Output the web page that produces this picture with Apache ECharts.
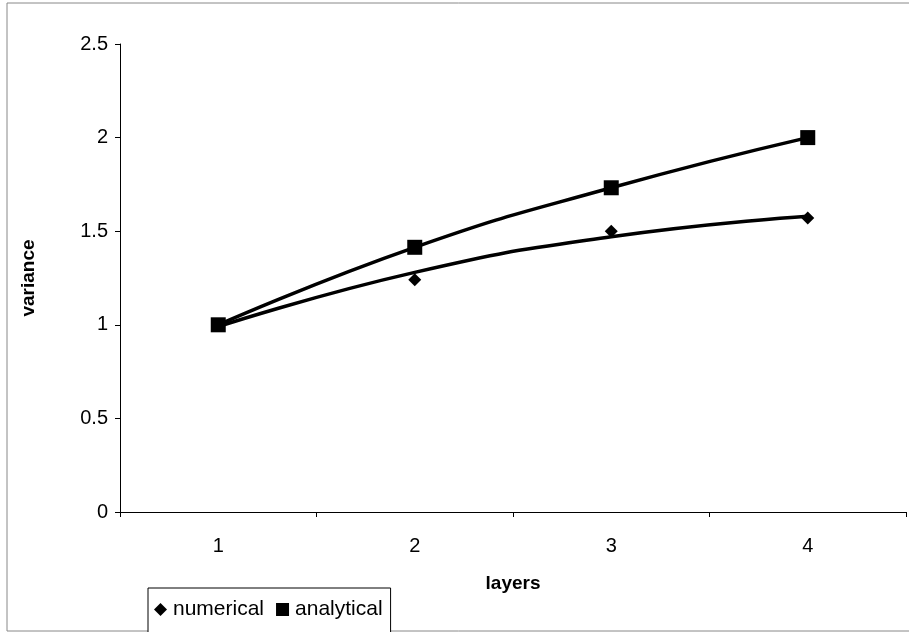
<!DOCTYPE html>
<html>
<head>
<meta charset="utf-8">
<script src="https://cdn.jsdelivr.net/npm/echarts@6/dist/echarts.min.js"></script>
<style>
html,body{margin:0;padding:0;background:#fff;}
#c{width:909px;height:632px;}
</style>
</head>
<body>
<div id="c"></div>
<script>
var categories = ['1', '2', '3', '4'];
var numerical = [1.0, 1.24, 1.5, 1.57];
var analytical = [1.0, 1.414, 1.732, 2.0];
var numericalTrend = [0.99, 1.28, 1.47, 1.58];
var yTicks = [0, 0.5, 1, 1.5, 2, 2.5];

var chart = echarts.init(document.getElementById('c'));
var font = 'Liberation Sans, Arial, sans-serif';
chart.setOption({
  animation: false,
  backgroundColor: '#fff',
  grid: {left: 120, right: 3, top: 44, bottom: 120},
  graphic: [{
    type: 'rect', shape: {x: 7, y: 3, width: 905, height: 628},
    style: {fill: 'none', stroke: '#888', lineWidth: 1}, z: -1
  }],
  legend: {
    left: 148, top: 588,
    data: [{name: 'numerical', icon: 'diamond'}, {name: 'analytical', icon: 'rect'}],
    itemWidth: 13, itemHeight: 13, itemGap: 12,
    borderColor: '#000', borderWidth: 1, backgroundColor: '#fff',
    padding: [11, 8, 14, 6],
    textStyle: {fontFamily: font, fontSize: 21, color: '#000', padding: [0, 0, 0, 1]}
  },
  xAxis: {
    type: 'category', data: categories, boundaryGap: true,
    name: 'layers', nameLocation: 'middle', nameGap: 62,
    nameTextStyle: {fontFamily: font, fontSize: 19, fontWeight: 'bold', color: '#000'},
    axisLine: {lineStyle: {color: '#000', width: 1}},
    axisTick: {show: true, length: 5, lineStyle: {color: '#000'}},
    axisLabel: {fontFamily: font, fontSize: 20, color: '#000', margin: 24},
    splitLine: {show: false}
  },
  yAxis: {
    type: 'value', min: yTicks[0], max: yTicks[yTicks.length - 1], interval: 0.5,
    name: 'variance', nameLocation: 'middle', nameGap: 82, nameRotate: 90,
    nameTextStyle: {fontFamily: font, fontSize: 19, fontWeight: 'bold', color: '#000'},
    axisLine: {show: true, lineStyle: {color: '#000', width: 1}},
    axisTick: {show: true, length: 5, lineStyle: {color: '#000'}},
    axisLabel: {fontFamily: font, fontSize: 20, color: '#000', margin: 12},
    splitLine: {show: false}
  },
  series: [
    {
      name: 'numerical trend', type: 'line', data: numericalTrend, smooth: true,
      symbol: 'none', lineStyle: {color: '#000', width: 3.5}, z: 2
    },
    {
      name: 'analytical', type: 'line', data: analytical, smooth: true,
      symbol: 'rect', symbolSize: 15,
      itemStyle: {color: '#000'}, lineStyle: {color: '#000', width: 3.5}, z: 3
    },
    {
      name: 'numerical', type: 'line', data: numerical,
      symbol: 'diamond', symbolSize: 13,
      itemStyle: {color: '#000'}, lineStyle: {width: 0, opacity: 0}, z: 4
    }
  ]
});
</script>
</body>
</html>
